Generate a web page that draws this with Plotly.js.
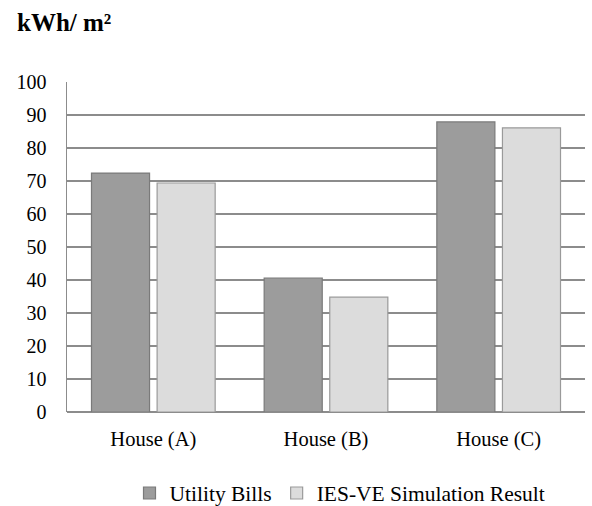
<!DOCTYPE html>
<html>
<head>
<meta charset="utf-8">
<script src="https://cdn.plot.ly/plotly-3.0.1.min.js"></script>
<style>html,body{margin:0;padding:0;background:#fff;}#chart{width:592px;height:506px;}</style>
</head>
<body>
<div id="chart"></div>
<script>
var categories = ["House (A)", "House (B)", "House (C)"];
var utilityBills = [72.4, 40.6, 87.9];
var iesveResult = [69.4, 34.8, 86.1];
var yTicks = [0, 10, 20, 30, 40, 50, 60, 70, 80, 90, 100];

var serif = "Liberation Serif, Times New Roman, serif";

var traces = [
  {
    type: "bar", name: "Utility Bills", x: categories, y: utilityBills,
    marker: {color: "#9c9c9c", line: {color: "#7a7a7a", width: 1.2}},
    hoverinfo: "none"
  },
  {
    type: "bar", name: "IES-VE Simulation Result", x: categories, y: iesveResult,
    marker: {color: "#dcdcdc", line: {color: "#9a9a9a", width: 1.2}},
    hoverinfo: "none"
  }
];

var layout = {
  width: 592, height: 506,
  margin: {l: 67, r: 7, t: 82, b: 94},
  paper_bgcolor: "#ffffff", plot_bgcolor: "#ffffff",
  font: {family: serif, size: 20, color: "#000"},
  barmode: "group", bargap: 0.24, bargroupgap: 0.115,
  title: {
    text: "<b>kWh/ m²</b>", font: {family: serif, size: 25, color: "#000"},
    xref: "container", yref: "container", x: 17/592, y: 1 - 22/506,
    xanchor: "left", yanchor: "middle"
  },
  xaxis: {
    automargin: false,
    showgrid: false, showline: false, zeroline: false, ticks: "",
    ticklabelstandoff: 12,
    tickfont: {family: serif, size: 20.5, color: "#000"}
  },
  yaxis: {
    automargin: false,
    range: [0, 100], tickvals: yTicks, ticktext: yTicks.map(String),
    showgrid: true, gridcolor: "#8c8c8c", gridwidth: 1.5,
    showline: true, linecolor: "#8c8c8c", linewidth: 1.5,
    zeroline: true, zerolinecolor: "#8c8c8c", zerolinewidth: 1.5,
    ticks: "", ticklabelstandoff: 15,
    tickfont: {family: serif, size: 20, color: "#000"}
  },
  showlegend: true,
  legend: {
    orientation: "h", xref: "container", yref: "container",
    x: 340/592, xanchor: "center", y: 1 - 493/506, yanchor: "middle",
    font: {family: serif, size: 21.5, color: "#000"},
    itemwidth: 30, tracegroupgap: 0, traceorder: "normal"
  }
};

Plotly.newPlot("chart", traces, layout, {displayModeBar: false, staticPlot: true});
</script>
</body>
</html>
